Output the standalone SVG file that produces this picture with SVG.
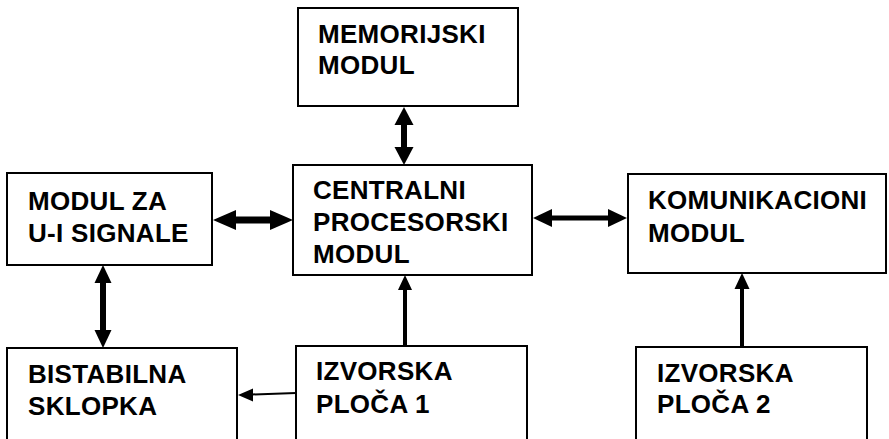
<svg xmlns="http://www.w3.org/2000/svg" width="889" height="439" viewBox="0 0 889 439">
<style>
.box{fill:#fff;stroke:#000;stroke-width:2}
.lbl{font-family:"Liberation Sans",Arial,sans-serif;font-weight:bold;font-size:26px;letter-spacing:0.3px;fill:#000}
.sh{stroke:#000;fill:none}
.hd{fill:#000;stroke:none}
</style>
<rect width="889" height="439" fill="#fff"/>
<g id="connectors">
<line class="sh" x1="404" y1="124" x2="404" y2="148" stroke-width="6"/>
<polygon class="hd" points="404,107 394.5,125 413.5,125"/>
<polygon class="hd" points="404,165 394.5,147 413.5,147"/>
<line class="sh" x1="235" y1="220" x2="271" y2="220" stroke-width="7"/>
<polygon class="hd" points="213,220 236,210 236,230"/>
<polygon class="hd" points="293,220 270,210 270,230"/>
<line class="sh" x1="551" y1="218" x2="609" y2="218" stroke-width="5"/>
<polygon class="hd" points="533,218 552,209 552,227"/>
<polygon class="hd" points="627,218 608,209 608,227"/>
<line class="sh" x1="103" y1="282" x2="103" y2="331" stroke-width="6"/>
<polygon class="hd" points="103,265 94.5,283 111.5,283"/>
<polygon class="hd" points="103,348 94.5,330 111.5,330"/>
<line class="sh" x1="405" y1="289" x2="405" y2="346" stroke-width="4"/>
<polygon class="hd" points="405,275 398,290 412,290"/>
<line class="sh" x1="252" y1="394.5" x2="296" y2="393" stroke-width="2"/>
<polygon class="hd" points="238,395 253,388.5 253,401.5"/>
<line class="sh" x1="742" y1="288" x2="742" y2="347" stroke-width="4"/>
<polygon class="hd" points="742,273 734.5,289 749.5,289"/>
</g>
<g id="memorijski">
<rect class="box" x="298" y="8" width="220" height="98"/>
<text class="lbl" x="318" y="43">MEMORIJSKI</text>
<text class="lbl" x="318" y="74">MODUL</text>
</g>
<g id="centralni">
<rect class="box" x="293" y="165" width="239" height="110"/>
<text class="lbl" x="313" y="199">CENTRALNI</text>
<text class="lbl" x="313" y="231">PROCESORSKI</text>
<text class="lbl" x="313" y="263">MODUL</text>
</g>
<g id="modul-ui">
<rect class="box" x="7" y="173" width="205" height="92"/>
<text class="lbl" x="28" y="210">MODUL ZA</text>
<text class="lbl" x="28" y="242">U-I SIGNALE</text>
</g>
<g id="komunikacioni">
<rect class="box" x="628" y="174" width="258" height="99"/>
<text class="lbl" x="648" y="209">KOMUNIKACIONI</text>
<text class="lbl" x="648" y="242">MODUL</text>
</g>
<g id="bistabilna">
<rect class="box" x="7" y="348" width="230" height="100"/>
<text class="lbl" x="28" y="383">BISTABILNA</text>
<text class="lbl" x="28" y="415">SKLOPKA</text>
</g>
<g id="izvorska1">
<rect class="box" x="296" y="346" width="231" height="100"/>
<text class="lbl" x="316" y="380">IZVORSKA</text>
<text class="lbl" x="316" y="413">PLOČA 1</text>
</g>
<g id="izvorska2">
<rect class="box" x="636" y="347" width="231" height="100"/>
<text class="lbl" x="657" y="382">IZVORSKA</text>
<text class="lbl" x="657" y="413">PLOČA 2</text>
</g>
</svg>
